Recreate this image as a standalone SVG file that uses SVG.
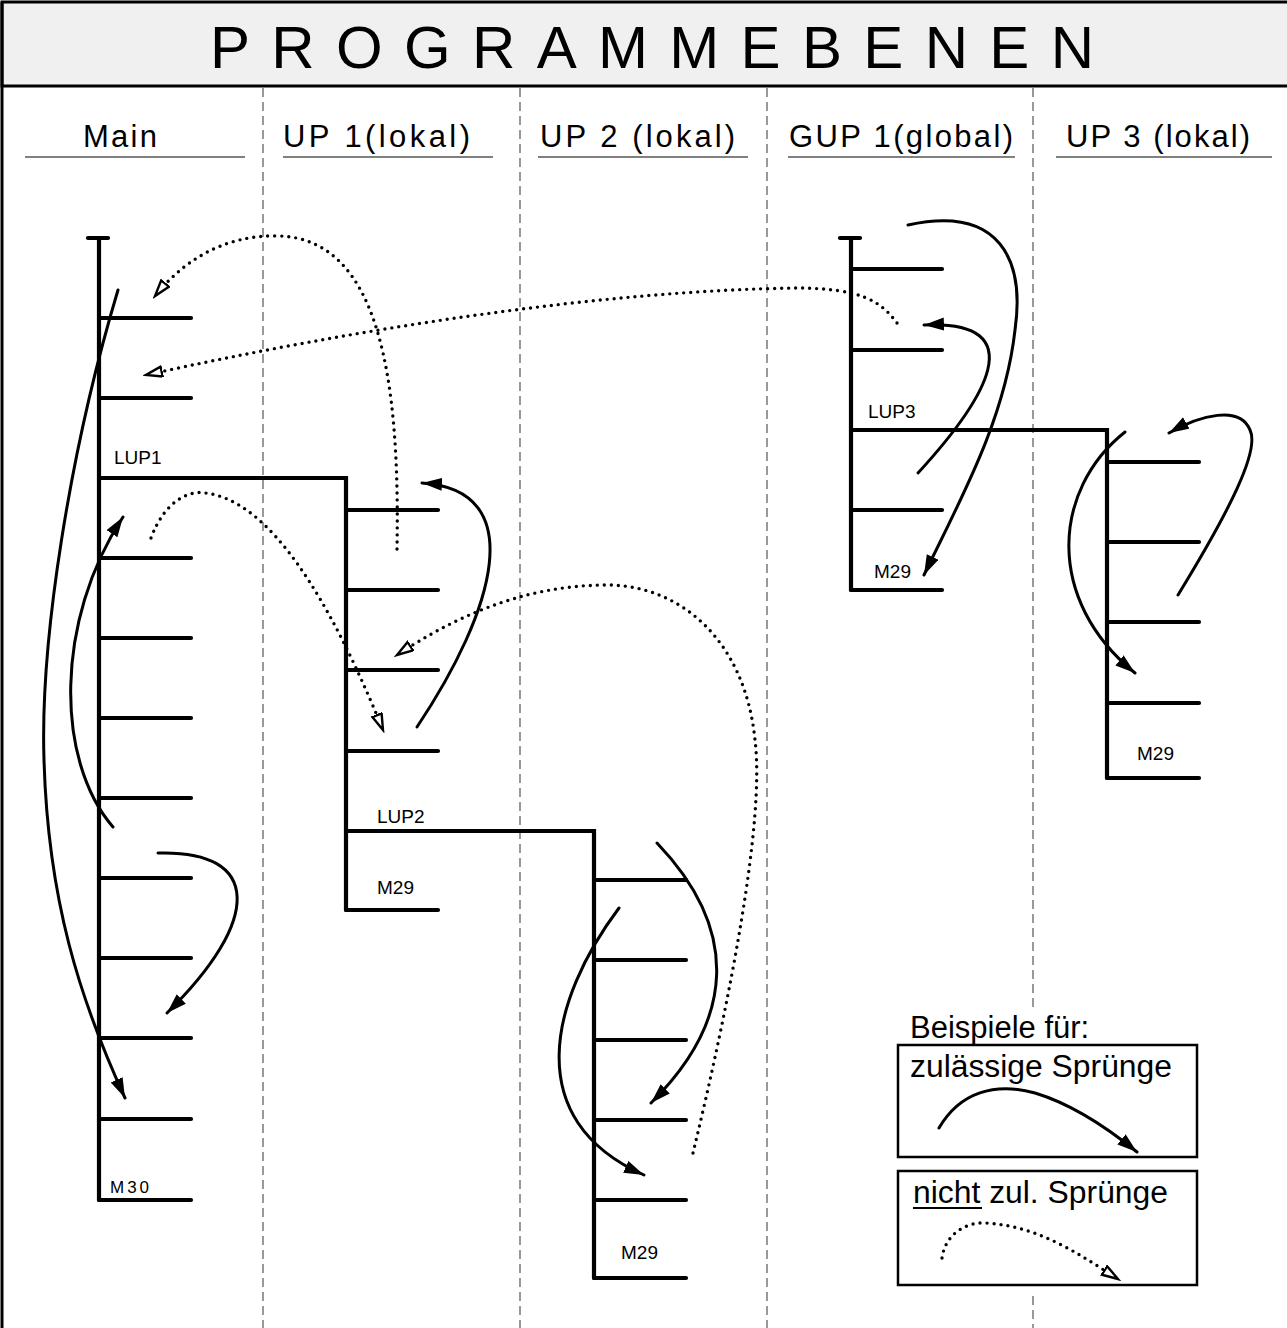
<svg xmlns="http://www.w3.org/2000/svg" width="1287" height="1328" viewBox="0 0 1287 1328">
<style>
  .frame{fill:none;stroke:#000;stroke-width:3}
  .sep{stroke:#555;stroke-width:1.2;stroke-dasharray:9 5;fill:none}
  .uline{stroke:#808080;stroke-width:2}
  .bar{stroke:#000;stroke-width:4.2;stroke-linecap:round;fill:none}
  .hdr{font-family:"Liberation Sans",Arial,sans-serif;font-size:31px;fill:#000}
  .title{font-family:"Liberation Sans",Arial,sans-serif;font-size:60px;fill:#000}
  .lbl{font-family:"Liberation Sans",Arial,sans-serif;font-size:19px;fill:#000}
  .leg{font-family:"Liberation Sans",Arial,sans-serif;font-size:31px;fill:#000}
  .ok{fill:none;stroke:#000;stroke-width:3;stroke-linecap:round;marker-end:url(#solidHead)}
  .bad{fill:none;stroke:#000;stroke-width:3.4;stroke-linecap:round;stroke-dasharray:0 7;marker-end:url(#openHead)}
</style>
<defs>
  <marker id="solidHead" markerUnits="userSpaceOnUse" markerWidth="22" markerHeight="14" refX="20" refY="6.5" orient="auto">
    <path d="M0,0 L20,6.5 L0,13 Z" fill="#000"/>
  </marker>
  <marker id="openHead" markerUnits="userSpaceOnUse" markerWidth="20" markerHeight="14" refX="17" refY="6" orient="auto">
    <path d="M1,1 L17,6 L1,11 Z" fill="#fff" stroke="#000" stroke-width="2.4" stroke-linejoin="miter"/>
  </marker>
</defs>
<rect x="0" y="0" width="1287" height="1328" fill="#fff"/>

<g id="title">
  <rect x="2" y="2" width="1295" height="84" fill="#f0f0f0" stroke="#000" stroke-width="3"/>
  <text class="title" x="210" y="68" textLength="884" lengthAdjust="spacing">PROGRAMMEBENEN</text>
</g>
<line x1="2" y1="2" x2="2" y2="1328" stroke="#000" stroke-width="3"/>

<g id="separators">
  <line class="sep" x1="263" y1="88" x2="263" y2="1328"/>
  <line class="sep" x1="520" y1="88" x2="520" y2="1328"/>
  <line class="sep" x1="767" y1="88" x2="767" y2="1328"/>
  <line class="sep" x1="1033" y1="88" x2="1033" y2="1008"/>
  <line class="sep" x1="1033" y1="1296" x2="1033" y2="1328"/>
</g>

<g id="headers">
  <text class="hdr" x="83" y="147" textLength="74" lengthAdjust="spacing">Main</text>
  <line class="uline" x1="25" y1="157" x2="245" y2="157"/>
  <text class="hdr" x="283" y="147" textLength="187" lengthAdjust="spacing">UP 1(lokal)</text>
  <line class="uline" x1="283" y1="157" x2="493" y2="157"/>
  <text class="hdr" x="540" y="147" textLength="195" lengthAdjust="spacing">UP 2 (lokal)</text>
  <line class="uline" x1="538" y1="157" x2="748" y2="157"/>
  <text class="hdr" x="789" y="147" textLength="224" lengthAdjust="spacing">GUP 1(global)</text>
  <line class="uline" x1="788" y1="157" x2="1015" y2="157"/>
  <text class="hdr" x="1066" y="147" textLength="184" lengthAdjust="spacing">UP 3 (lokal)</text>
  <line class="uline" x1="1056" y1="157" x2="1272" y2="157"/>
</g>

<g id="main">
  <line class="bar" x1="88" y1="238" x2="108" y2="238"/>
  <line class="bar" x1="99" y1="238" x2="99" y2="1200"/>
  <path class="bar" d="M99,318H191M99,398H191M99,558H191M99,638H191M99,718H191M99,798H191M99,878H191M99,958H191M99,1038H191M99,1119H191M99,1200H191"/>
  <text class="lbl" x="114" y="464">LUP1</text>
  <text class="lbl" x="110" y="1193" style="font-size:17px;letter-spacing:3px">M30</text>
</g>

<g id="up1">
  <path class="bar" d="M99,478H346V910"/>
  <path class="bar" d="M346,510H438M346,590H438M346,670H438M346,751H438M346,910H438"/>
  <text class="lbl" x="377" y="823">LUP2</text>
  <text class="lbl" x="377" y="894">M29</text>
</g>

<g id="up2">
  <path class="bar" d="M346,831H594V1278"/>
  <path class="bar" d="M594,880H686M594,960H686M594,1040H686M594,1120H686M594,1200H686M594,1278H686"/>
  <text class="lbl" x="621" y="1259">M29</text>
</g>

<g id="gup1">
  <line class="bar" x1="840" y1="238" x2="860" y2="238"/>
  <line class="bar" x1="851" y1="238" x2="851" y2="590"/>
  <path class="bar" d="M851,269H942M851,350H942M851,510H942M851,590H942"/>
  <text class="lbl" x="868" y="418">LUP3</text>
  <text class="lbl" x="874" y="578">M29</text>
</g>

<g id="up3">
  <path class="bar" d="M851,430H1107V778"/>
  <path class="bar" d="M1107,462H1199M1107,542H1199M1107,622H1199M1107,703H1199M1107,778H1199"/>
  <text class="lbl" x="1137" y="760">M29</text>
</g>

<g id="connectors">
  <path class="ok" d="M118,290 C70,450 40,640 44,760 C48,900 80,1000 125,1098"/>
  <path class="ok" d="M113,827 C55,760 55,620 123,517"/>
  <path class="ok" d="M158,853 C262,850 262,920 167,1013"/>
  <path class="ok" d="M417,727 C495,610 530,490 422,483"/>
  <path class="ok" d="M908,225 C1000,205 1025,260 1015,330 C1005,420 960,500 924,575"/>
  <path class="ok" d="M918,473 C985,400 1035,320 924,325"/>
  <path class="ok" d="M1178,595 C1230,510 1260,450 1250,430 C1240,405 1200,415 1169,433"/>
  <path class="ok" d="M1125,432 C1052,490 1045,600 1135,673"/>
  <path class="ok" d="M657,843 C740,930 735,1020 651,1103"/>
  <path class="ok" d="M619,908 C550,1000 520,1120 644,1175"/>

  <path class="bad" d="M397,549 C400,380 380,240 280,236 C220,234 180,265 155,296"/>
  <path class="bad" d="M897,323 C880,300 860,289 800,288 C600,290 350,330 146,375"/>
  <path class="bad" d="M151,538 C165,500 190,490 205,493 C270,500 330,600 383,730"/>
  <path class="bad" d="M693,1153 C730,1000 765,820 755,740 C745,640 680,585 607,585 C520,585 450,620 397,655"/>
</g>

<g id="legend">
  <text class="leg" x="910" y="1038">Beispiele für:</text>
  <rect x="898" y="1045" width="299" height="112" fill="none" stroke="#000" stroke-width="2.5"/>
  <text class="leg" x="910" y="1077" textLength="262" lengthAdjust="spacingAndGlyphs">zulässige Sprünge</text>
  <path class="ok" d="M939,1128 C960,1092 995,1082 1035,1093 C1075,1105 1110,1130 1137,1152"/>
  <rect x="898" y="1171" width="299" height="114" fill="none" stroke="#000" stroke-width="2.5"/>
  <text class="leg" x="913" y="1203" textLength="255" lengthAdjust="spacingAndGlyphs">nicht zul. Sprünge</text>
  <line x1="913" y1="1208" x2="982" y2="1208" stroke="#000" stroke-width="2"/>
  <path class="bad" d="M942,1258 C945,1235 965,1222 985,1223 C1040,1226 1080,1255 1118,1279"/>
</g>
</svg>
